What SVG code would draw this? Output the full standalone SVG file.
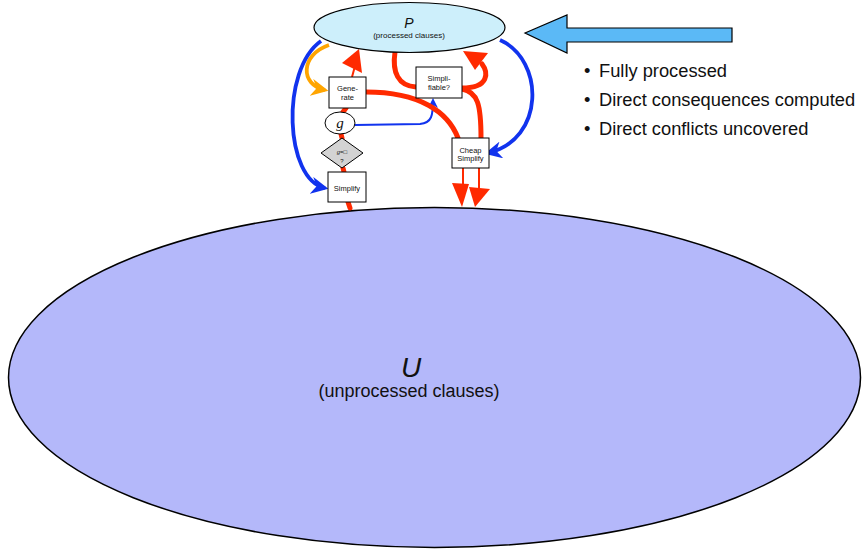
<svg xmlns="http://www.w3.org/2000/svg" width="868" height="550" viewBox="0 0 868 550">
<defs>
<style>
text{font-family:"Liberation Sans",Arial,sans-serif;fill:#111;}
.box{fill:#fff;stroke:#000;stroke-width:1;}
.lbl{font-size:7.5px;text-anchor:middle;}
.red{fill:none;stroke:#ff2a00;stroke-width:5;stroke-linecap:round;}
.redthin{fill:none;stroke:#ff2a00;stroke-width:2;}
.blue{fill:none;stroke:#1133ee;stroke-width:3.8;}
.bul{font-size:18.3px;}
</style>
<marker id="ab" viewBox="0 0 10 10" refX="8" refY="5" markerWidth="4.5" markerHeight="4.5" orient="auto" markerUnits="strokeWidth"><path d="M0,0 L10,5 L0,10 L3,5 Z" fill="#1133ee"/></marker>
<marker id="ab2" viewBox="0 0 10 10" refX="8" refY="5" markerWidth="5" markerHeight="5" orient="auto" markerUnits="strokeWidth"><path d="M0,0 L10,5 L0,10 L3,5 Z" fill="#1133ee"/></marker>
<marker id="ao" viewBox="0 0 10 10" refX="8" refY="5" markerWidth="4.5" markerHeight="4.5" orient="auto" markerUnits="strokeWidth"><path d="M0,0 L10,5 L0,10 L3,5 Z" fill="#ffa500"/></marker>
</defs>

<g id="U">
<ellipse cx="434.5" cy="377.5" rx="426" ry="170" fill="#b4b8fa" stroke="#000" stroke-width="1.5"/>
<text x="411" y="377" font-size="28" font-style="italic" text-anchor="middle">U</text>
<text x="409" y="397" font-size="18" text-anchor="middle">(unprocessed clauses)</text>
</g>

<g id="connectors">
<path d="M329,45 C300,55 300,85 325,90" fill="none" stroke="#ffa500" stroke-width="3.8" marker-end="url(#ao)"/>
<path d="M321,41 C280,70 285,180 325,188" class="blue" marker-end="url(#ab)"/>
<path d="M500,40 C545,60 545,140 488,153" class="blue" marker-end="url(#ab)"/>
<path d="M355,125 L420,124 C432,123 433,115 433,100" fill="none" stroke="#1133ee" stroke-width="2" marker-end="url(#ab2)"/>
<path d="M352,77 L355,66" class="redthin"/>
<polygon points="359,49 342,63 362,73" fill="#ff2a00"/>
<path d="M395,52 C392,72 398,86 416,87" class="red"/>
<path d="M462,88 C490,88 488,72 482,64" class="red"/>
<polygon points="463,51 488,53 475,70" fill="#ff2a00"/>
<path d="M462,89 C478,92 481,105 481,138" class="red"/>
<path d="M366,92 C420,92 448,112 458,138" class="red"/>
<path d="M463,168 L463,186" class="redthin"/>
<path d="M479,168 L479,188" class="redthin"/>
<polygon points="452,183 469,184 462,207" fill="#ff2a00"/>
<polygon points="469,187 490,189 475,207" fill="#ff2a00"/>
<path d="M346,108 L343,112" class="red"/>
<path d="M341,134 L342,138" class="red"/>
<path d="M343,168 L344,172" class="red"/>
<path d="M348,202 L350,208" class="red" stroke-width="3"/>
</g>

<g id="P">
<ellipse cx="409.5" cy="27.5" rx="95.5" ry="25" fill="#cdeffb" stroke="#000" stroke-width="1.2"/>
<text x="409" y="28" font-size="14" font-style="italic" text-anchor="middle">P</text>
<text x="409" y="37.5" font-size="8" text-anchor="middle">(processed clauses)</text>
</g>

<g id="generate">
<rect x="329" y="77" width="37" height="31" class="box"/>
<text x="347.5" y="91" class="lbl">Gene-</text>
<text x="347.5" y="100" class="lbl">rate</text>
</g>

<g id="g">
<ellipse cx="340" cy="123" rx="15" ry="11" fill="#fff" stroke="#000" stroke-width="1"/>
<text x="340" y="128" font-size="15" font-style="italic" text-anchor="middle" style="font-family:'Liberation Serif',serif">g</text>
</g>

<g id="test">
<polygon points="342,138 363,153 342,168 321,153" fill="#d3d3d3" stroke="#000" stroke-width="1"/>
<text x="342" y="154" font-size="6" text-anchor="middle" fill="#333"><tspan font-style="italic">g</tspan>=□</text>
<text x="342" y="163" font-size="6" text-anchor="middle" fill="#333">?</text>
</g>

<g id="simplify">
<rect x="328" y="172" width="38" height="30" class="box"/>
<text x="347" y="191" class="lbl">Simplify</text>
</g>

<g id="simplifiable">
<rect x="416" y="67" width="46" height="31" class="box"/>
<text x="439" y="81" class="lbl">Simpli-</text>
<text x="439" y="89.5" class="lbl">fiable?</text>
</g>

<g id="cheap">
<rect x="452" y="138" width="37" height="30" class="box"/>
<text x="470.5" y="153" class="lbl">Cheap</text>
<text x="470.5" y="161" class="lbl">Simplify</text>
</g>

<g id="bigarrow">
<polygon points="525,33 567,15 567,28 732,28 732,42 567,42 567,53" fill="#5bb9f6" stroke="#000" stroke-width="1.2"/>
</g>

<g id="bullets">
<text x="584" y="77" class="bul">•</text><text x="599" y="77" class="bul">Fully processed</text>
<text x="584" y="106" class="bul">•</text><text x="599" y="106" class="bul">Direct consequences computed</text>
<text x="584" y="135" class="bul">•</text><text x="599" y="135" class="bul">Direct conflicts uncovered</text>
</g>
</svg>
